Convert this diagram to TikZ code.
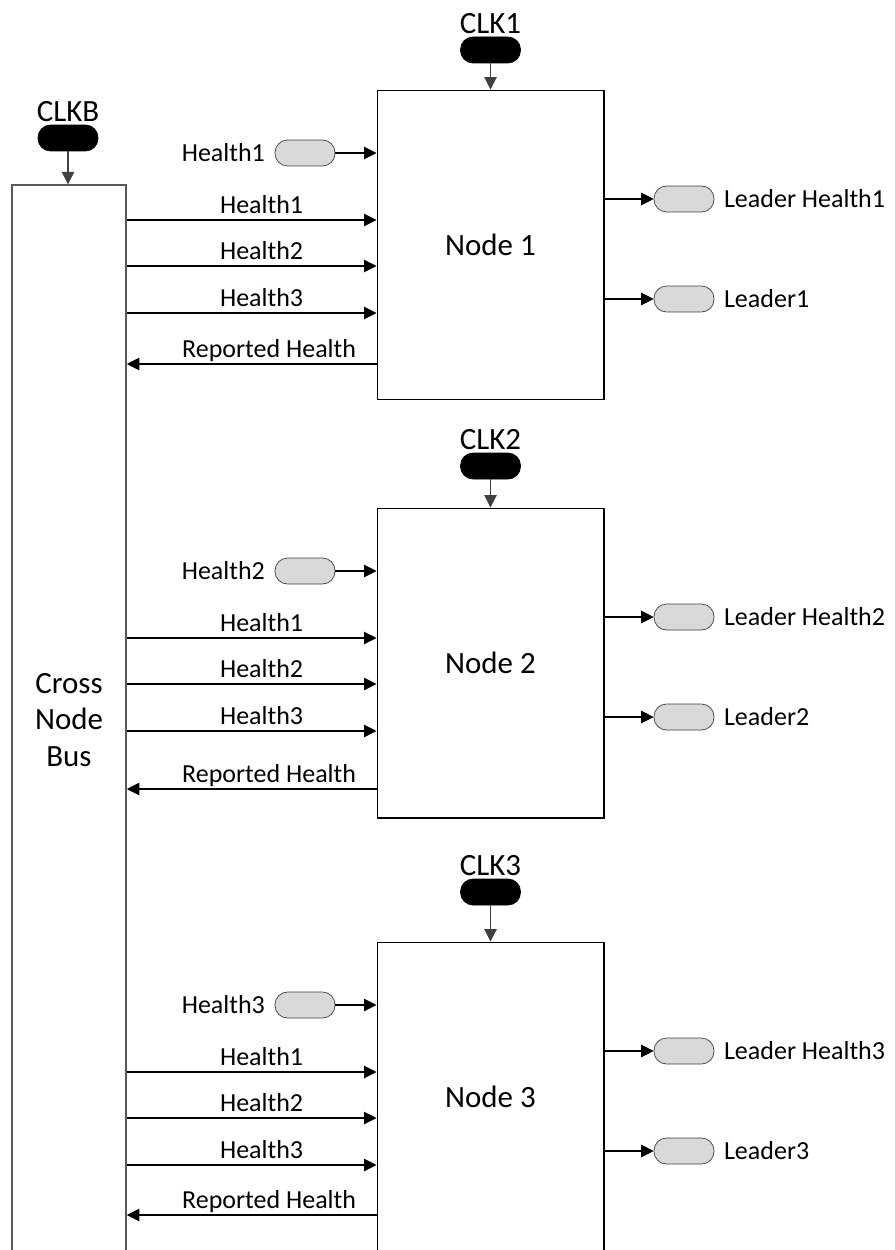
\documentclass[tikz,border=0pt]{standalone}
\usepackage{fontspec}
\setmainfont{Carlito}
\usetikzlibrary{arrows.meta,positioning}
\definecolor{pillgray}{HTML}{D9D9D9}
\definecolor{busgray}{HTML}{595959}
\tikzstyle{box} = [draw=black, line width=0.6pt, minimum width=4.54cm, minimum height=6.2cm, font=\fontsize{17.6}{21}\selectfont]
\tikzstyle{crossbus} = [draw=busgray, line width=0.9pt, minimum width=2.28cm, minimum height=21.4cm, align=center, font=\fontsize{17.6}{21}\selectfont]
\tikzstyle{pill} = [draw=black!75, fill=pillgray, rounded corners=0.25cm, minimum width=1.2cm, minimum height=0.52cm, inner sep=0pt]
\tikzstyle{clk} = [pill, fill=black, draw=black]
\tikzstyle{txt} = [font=\fontsize{14.8}{17}\selectfont]
\tikzstyle{clktxt} = [font=\fontsize{17.6}{21}\selectfont]
\tikzstyle{sig} = [-{Triangle[length=0.25cm,width=0.25cm]}, line width=0.6pt]
\tikzstyle{clkline} = [sig, draw=black!75]

\begin{document}
\begin{tikzpicture}[x=0.02cm, y=-0.02cm]
        \useasboundingbox (0,0) rectangle (895,1250);
        \node[crossbus](bus) at (69,720){Cross\\Node\\Bus};
        \node[clk](cb) at (68,138){};
        \node[clktxt,above=-2pt of cb](cbt){CLKB};
        \draw[clkline](cb)--(cb |- bus.north);
        \foreach \i/\ty/\cy/\ry in {1/90/40/274, 2/508/42/281, 3/942/50/273}{
          \node[box](n\i) at (490.5,\ty+155){Node \i};
          \node[clk](c\i) at (490.5,\ty-\cy){};
          \node[clktxt,above=-2pt of c\i](ct\i){CLK\i};
          \draw[clkline](c\i)--(n\i);
          \node[pill](in\i) at (305,\ty+63){};
          \node[txt,left=2pt of in\i](inl\i){Health\i};
          \draw[sig](in\i)--(in\i -| n\i.west);
          \foreach \k/\dy in {1/130, 2/176, 3/223}
            \draw[sig](bus.east |- 0,\ty+\dy)--node[txt,above,pos=0.54](h\i\k){Health\k}(n\i.west |- 0,\ty+\dy);
          \draw[sig](n\i.west |- 0,\ty+\ry)--node[txt,above,pos=0.43,text depth=0pt](r\i){Reported Health}(bus.east |- 0,\ty+\ry);
          \node[pill](lh\i) at (684,\ty+109){};
          \node[txt,right=2pt of lh\i](lht\i){Leader Health\i};
          \draw[sig](n\i.east |- lh\i)--(lh\i);
          \node[pill](ld\i) at (684,\ty+209){};
          \node[txt,right=2pt of ld\i](ldt\i){Leader\i};
          \draw[sig](n\i.east |- ld\i)--(ld\i);
        }
      \end{tikzpicture}
\end{document}
